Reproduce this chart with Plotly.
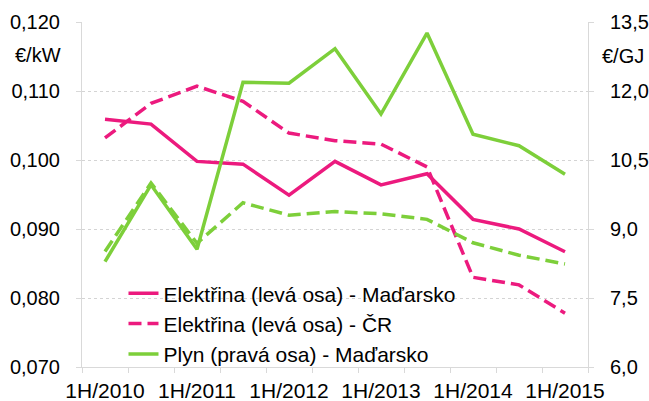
import plotly.graph_objects as go

categories = ["1H/2010", "2H/2010", "1H/2011", "2H/2011", "1H/2012", "2H/2012",
              "1H/2013", "2H/2013", "1H/2014", "2H/2014", "1H/2015"]
elec_hu = [0.1059, 0.1052, 0.0998, 0.0994, 0.0949, 0.0998, 0.0964, 0.0980, 0.0914, 0.0900, 0.0867]
elec_cz = [0.1032, 0.1082, 0.1107, 0.1085, 0.1039, 0.1028, 0.1023, 0.0990, 0.0830, 0.0819, 0.0778]
gas_hu = [8.29, 9.96, 8.56, 12.19, 12.17, 12.92, 11.50, 13.26, 11.06, 10.81, 10.19]
gas_cz = [8.51, 10.00, 8.69, 9.57, 9.30, 9.38, 9.33, 9.21, 8.70, 8.43, 8.24]
tick_text = [c if c.startswith("1H") else "" for c in categories]

PINK = "#EC1A7E"
GREEN = "#7DCF3A"
DASH = "13px,6px"
FONT = "Liberation Sans, Arial, sans-serif"

fig = go.Figure()
fig.add_trace(go.Scatter(x=categories, y=elec_hu, mode="lines", name="Elektřina (levá osa) - Maďarsko",
                         line=dict(color=PINK, width=3.5)))
fig.add_trace(go.Scatter(x=categories, y=elec_cz, mode="lines", name="Elektřina (levá osa) - ČR",
                         line=dict(color=PINK, width=3.5, dash=DASH)))
fig.add_trace(go.Scatter(x=categories, y=gas_hu, mode="lines", name="Plyn (pravá osa) - Maďarsko",
                         line=dict(color=GREEN, width=3.5), yaxis="y2"))
fig.add_trace(go.Scatter(x=categories, y=gas_cz, mode="lines", name="Plyn (pravá osa) - ČR",
                         line=dict(color=GREEN, width=3.5, dash=DASH), yaxis="y2", showlegend=False))

fig.update_layout(
    width=649, height=401,
    margin=dict(l=82, r=61, t=22, b=34, autoexpand=False),
    paper_bgcolor="white", plot_bgcolor="white",
    separators=",.",
    font=dict(family=FONT, size=20, color="#000000"),
    showlegend=True,
    legend=dict(x=0.082, y=0.272, xanchor="left", yanchor="top", bgcolor="rgba(0,0,0,0)",
                font=dict(size=21), tracegroupgap=0),
    xaxis=dict(type="category", tickmode="array", tickvals=categories, ticktext=tick_text,
               tickson="boundaries", ticks="outside", ticklen=5, tickcolor="#d9d9d9",
               showline=True, linecolor="#d9d9d9", linewidth=1, showgrid=False, automargin=False,
               range=[-0.5, 10.5], tickfont=dict(size=21), tickangle=0, ticklabelstandoff=5),
    yaxis=dict(range=[0.070, 0.120], tickmode="linear", tick0=0.070, dtick=0.010, tickformat=".3f",
               showgrid=True, gridcolor="#d4d4d4", griddash="dot", gridwidth=1, automargin=False,
               showline=True, linecolor="#d9d9d9", ticks="outside", ticklen=5, tickcolor="#d9d9d9",
               ticklabelstandoff=12, zeroline=False, tickfont=dict(size=20)),
    yaxis2=dict(range=[6.0, 13.5], tickmode="linear", tick0=6.0, dtick=1.5, tickformat=".1f",
                overlaying="y", side="right", showgrid=False, automargin=False,
                showline=True, linecolor="#d9d9d9", ticks="outside", ticklen=5, tickcolor="#d9d9d9",
                ticklabelstandoff=12, zeroline=False, tickfont=dict(size=20)),
    annotations=[
        dict(text="€/kW", xref="paper", yref="paper", x=-0.037, y=0.905, xanchor="right", yanchor="middle",
             showarrow=False, font=dict(size=20)),
        dict(text="€/GJ", xref="paper", yref="paper", x=1.023, y=0.9, xanchor="left", yanchor="middle",
             showarrow=False, font=dict(size=20)),
    ],
)

fig.write_html("out.html", config={"displayModeBar": False},
               post_script="document.body.style.margin='0';")
